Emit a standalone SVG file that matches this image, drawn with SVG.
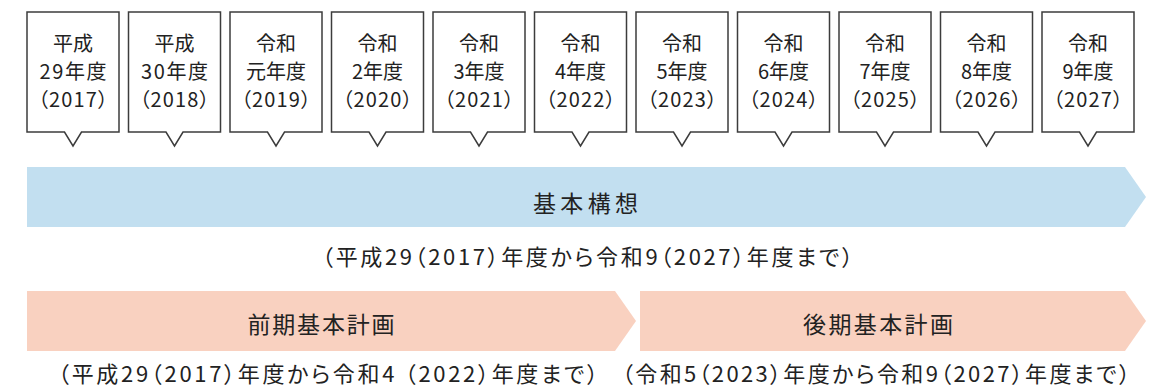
<svg xmlns="http://www.w3.org/2000/svg" width="1158" height="389" viewBox="0 0 1158 389">
<style>
.box{fill:#fff;stroke:#3c3c3c;stroke-width:1.5;stroke-linejoin:miter}
.t{font-family:"Noto Sans CJK JP","Noto Sans",sans-serif;fill:#222;text-anchor:middle;font-feature-settings:"palt"}
.yr{font-size:20px}
.ttl{font-size:23px}
.sub{font-size:22px}
.blue{fill:#c2dff0}
.pink{fill:#f9d1c0}
</style>
<rect width="1158" height="389" fill="#fff"/>
<g id="years">
<g id="y2017"><path class="box" d="M27 12H119V132H81.5L73 146L64.5 132H27Z"/><text class="t yr" x="73" y="51">平成</text><text class="t yr" x="73" y="79" textLength="67" lengthAdjust="spacing">29年度</text><text class="t yr" x="73" y="107" textLength="70" lengthAdjust="spacing">（2017）</text></g>
<g id="y2018"><path class="box" d="M128.5 12H220.5V132H183L174.5 146L166 132H128.5Z"/><text class="t yr" x="174.5" y="51">平成</text><text class="t yr" x="174.5" y="79" textLength="67" lengthAdjust="spacing">30年度</text><text class="t yr" x="174.5" y="107" textLength="70" lengthAdjust="spacing">（2018）</text></g>
<g id="y2019"><path class="box" d="M230 12H322V132H284.5L276 146L267.5 132H230Z"/><text class="t yr" x="276" y="51">令和</text><text class="t yr" x="276" y="79">元年度</text><text class="t yr" x="276" y="107" textLength="70" lengthAdjust="spacing">（2019）</text></g>
<g id="y2020"><path class="box" d="M331.5 12H423.5V132H386L377.5 146L369 132H331.5Z"/><text class="t yr" x="377.5" y="51">令和</text><text class="t yr" x="377.5" y="79">2年度</text><text class="t yr" x="377.5" y="107" textLength="70" lengthAdjust="spacing">（2020）</text></g>
<g id="y2021"><path class="box" d="M433 12H525V132H487.5L479 146L470.5 132H433Z"/><text class="t yr" x="479" y="51">令和</text><text class="t yr" x="479" y="79">3年度</text><text class="t yr" x="479" y="107" textLength="70" lengthAdjust="spacing">（2021）</text></g>
<g id="y2022"><path class="box" d="M534.5 12H626.5V132H589L580.5 146L572 132H534.5Z"/><text class="t yr" x="580.5" y="51">令和</text><text class="t yr" x="580.5" y="79">4年度</text><text class="t yr" x="580.5" y="107" textLength="70" lengthAdjust="spacing">（2022）</text></g>
<g id="y2023"><path class="box" d="M636 12H728V132H690.5L682 146L673.5 132H636Z"/><text class="t yr" x="682" y="51">令和</text><text class="t yr" x="682" y="79">5年度</text><text class="t yr" x="682" y="107" textLength="70" lengthAdjust="spacing">（2023）</text></g>
<g id="y2024"><path class="box" d="M737.5 12H829.5V132H792L783.5 146L775 132H737.5Z"/><text class="t yr" x="783.5" y="51">令和</text><text class="t yr" x="783.5" y="79">6年度</text><text class="t yr" x="783.5" y="107" textLength="70" lengthAdjust="spacing">（2024）</text></g>
<g id="y2025"><path class="box" d="M839 12H931V132H893.5L885 146L876.5 132H839Z"/><text class="t yr" x="885" y="51">令和</text><text class="t yr" x="885" y="79">7年度</text><text class="t yr" x="885" y="107" textLength="70" lengthAdjust="spacing">（2025）</text></g>
<g id="y2026"><path class="box" d="M940.5 12H1032.5V132H995L986.5 146L978 132H940.5Z"/><text class="t yr" x="986.5" y="51">令和</text><text class="t yr" x="986.5" y="79">8年度</text><text class="t yr" x="986.5" y="107" textLength="70" lengthAdjust="spacing">（2026）</text></g>
<g id="y2027"><path class="box" d="M1042 12H1134V132H1096.5L1088 146L1079.5 132H1042Z"/><text class="t yr" x="1088" y="51">令和</text><text class="t yr" x="1088" y="79">9年度</text><text class="t yr" x="1088" y="107" textLength="70" lengthAdjust="spacing">（2027）</text></g>
</g>
<g id="kihonkousou">
<path class="blue" d="M27 167H1125L1146 197L1125 227H27Z"/>
<text class="t ttl" x="585.5" y="212" textLength="105" lengthAdjust="spacing">基本構想</text>
<text class="t sub" x="587.5" y="265" textLength="531" lengthAdjust="spacing">（平成29（2017）年度から令和9（2027）年度まで）</text>
</g>
<g id="zenki">
<path class="pink" d="M27 291H615L636 321L615 351H27Z"/>
<text class="t ttl" x="321" y="333" textLength="147" lengthAdjust="spacing">前期基本計画</text>
<text class="t sub" x="328" y="382" textLength="540" lengthAdjust="spacing">（平成29（2017）年度から令和4 （2022）年度まで）</text>
</g>
<g id="kouki">
<path class="pink" d="M640 291H1125L1146 321L1125 351H640Z"/>
<text class="t ttl" x="878" y="333" textLength="150" lengthAdjust="spacing">後期基本計画</text>
<text class="t sub" x="876" y="382" textLength="508" lengthAdjust="spacing">（令和5（2023）年度から令和9（2027）年度まで）</text>
</g>
<g id="connectors"></g>
</svg>
